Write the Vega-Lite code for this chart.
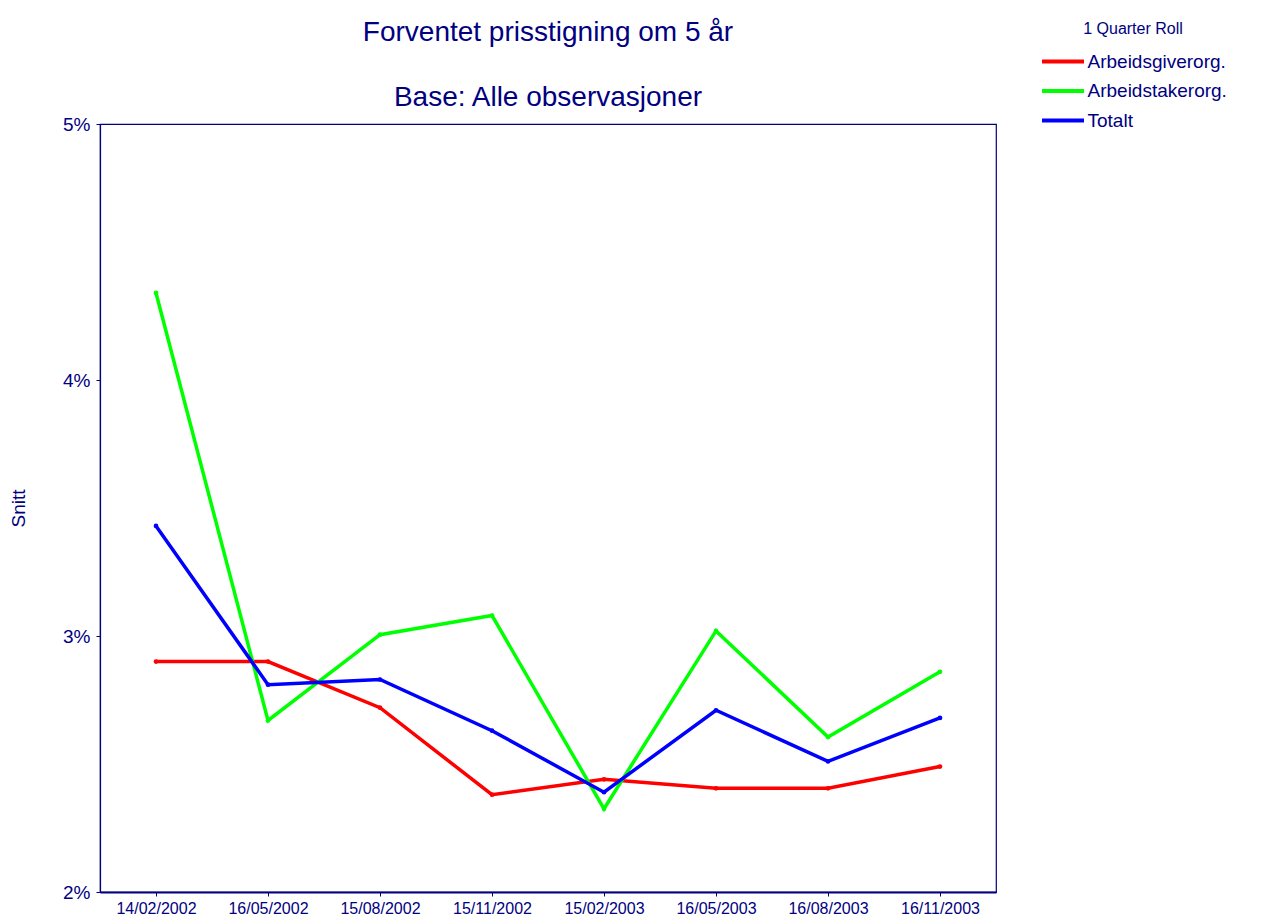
{
  "$schema": "https://vega.github.io/schema/vega-lite/v6.json",
  "autosize": {"type": "none"},
  "width": 896,
  "height": 768,
  "padding": {"left": 100, "top": 124, "right": 275, "bottom": 24},
  "background": "white",
  "title": {
    "text": ["Forventet prisstigning om 5 år", "Base: Alle observasjoner"],
    "font": "Liberation Sans",
    "fontSize": 28,
    "fontWeight": "normal",
    "color": "#000080",
    "lineHeight": 65,
    "anchor": "middle",
    "offset": 0,
    "dy": 91
  },
  "config": {
    "view": {"stroke": "#000080", "strokeWidth": 1.2},
    "font": "Liberation Sans"
  },
  "data": {
    "values": [
      {"dato": "14/02/2002", "serie": "Arbeidsgiverorg.", "verdi": 0.0290},
      {"dato": "16/05/2002", "serie": "Arbeidsgiverorg.", "verdi": 0.0290},
      {"dato": "15/08/2002", "serie": "Arbeidsgiverorg.", "verdi": 0.0272},
      {"dato": "15/11/2002", "serie": "Arbeidsgiverorg.", "verdi": 0.0238},
      {"dato": "15/02/2003", "serie": "Arbeidsgiverorg.", "verdi": 0.0244},
      {"dato": "16/05/2003", "serie": "Arbeidsgiverorg.", "verdi": 0.02405},
      {"dato": "16/08/2003", "serie": "Arbeidsgiverorg.", "verdi": 0.02405},
      {"dato": "16/11/2003", "serie": "Arbeidsgiverorg.", "verdi": 0.0249},
      {"dato": "14/02/2002", "serie": "Arbeidstakerorg.", "verdi": 0.0434},
      {"dato": "16/05/2002", "serie": "Arbeidstakerorg.", "verdi": 0.0267},
      {"dato": "15/08/2002", "serie": "Arbeidstakerorg.", "verdi": 0.03005},
      {"dato": "15/11/2002", "serie": "Arbeidstakerorg.", "verdi": 0.0308},
      {"dato": "15/02/2003", "serie": "Arbeidstakerorg.", "verdi": 0.02325},
      {"dato": "16/05/2003", "serie": "Arbeidstakerorg.", "verdi": 0.0302},
      {"dato": "16/08/2003", "serie": "Arbeidstakerorg.", "verdi": 0.02605},
      {"dato": "16/11/2003", "serie": "Arbeidstakerorg.", "verdi": 0.0286},
      {"dato": "14/02/2002", "serie": "Totalt", "verdi": 0.0343},
      {"dato": "16/05/2002", "serie": "Totalt", "verdi": 0.0281},
      {"dato": "15/08/2002", "serie": "Totalt", "verdi": 0.0283},
      {"dato": "15/11/2002", "serie": "Totalt", "verdi": 0.0263},
      {"dato": "15/02/2003", "serie": "Totalt", "verdi": 0.0239},
      {"dato": "16/05/2003", "serie": "Totalt", "verdi": 0.0271},
      {"dato": "16/08/2003", "serie": "Totalt", "verdi": 0.0251},
      {"dato": "16/11/2003", "serie": "Totalt", "verdi": 0.0268}
    ]
  },
  "mark": {
    "type": "line",
    "strokeWidth": 3.5,
    "point": {"filled": true, "size": 22}
  },
  "encoding": {
    "x": {
      "field": "dato",
      "type": "ordinal",
      "sort": null,
      "scale": {"type": "point", "padding": 0.5},
      "axis": {
        "title": null,
        "labelAngle": 0,
        "labelFontSize": 16,
        "labelColor": "#000080",
        "labelPadding": 4,
        "tickColor": "#000080",
        "tickSize": 4,
        "domainColor": "#000080",
        "domainWidth": 2.2,
        "grid": false
      }
    },
    "y": {
      "field": "verdi",
      "type": "quantitative",
      "scale": {"domain": [0.02, 0.05], "nice": false},
      "axis": {
        "title": "Snitt",
        "titleFontSize": 19,
        "titleFontWeight": "normal",
        "titleColor": "#000080",
        "titlePadding": 34,
        "values": [0.02, 0.03, 0.04, 0.05],
        "format": ".0%",
        "labelFontSize": 19,
        "labelColor": "#000080",
        "labelPadding": 6,
        "tickColor": "#000080",
        "tickSize": 4,
        "domainColor": "#000080",
        "domainWidth": 1.2,
        "grid": false
      }
    },
    "color": {
      "field": "serie",
      "type": "nominal",
      "scale": {
        "domain": ["Arbeidsgiverorg.", "Arbeidstakerorg.", "Totalt"],
        "range": ["#ff0000", "#00ff00", "#0000ff"]
      },
      "legend": {
        "title": "1 Quarter Roll",
        "titleFontSize": 16,
        "titleFontWeight": "normal",
        "titleColor": "#000080",
        "titleAnchor": "middle",
        "titlePadding": 12,
        "orient": "none",
        "legendX": 940,
        "legendY": -103,
        "symbolType": "M-2,0H2",
        "symbolSize": 441,
        "symbolOffset": 10.5,
        "symbolStrokeWidth": 4,
        "labelFontSize": 19,
        "labelColor": "#000080",
        "labelOffset": 12,
        "rowPadding": 6.5
      }
    }
  }
}
